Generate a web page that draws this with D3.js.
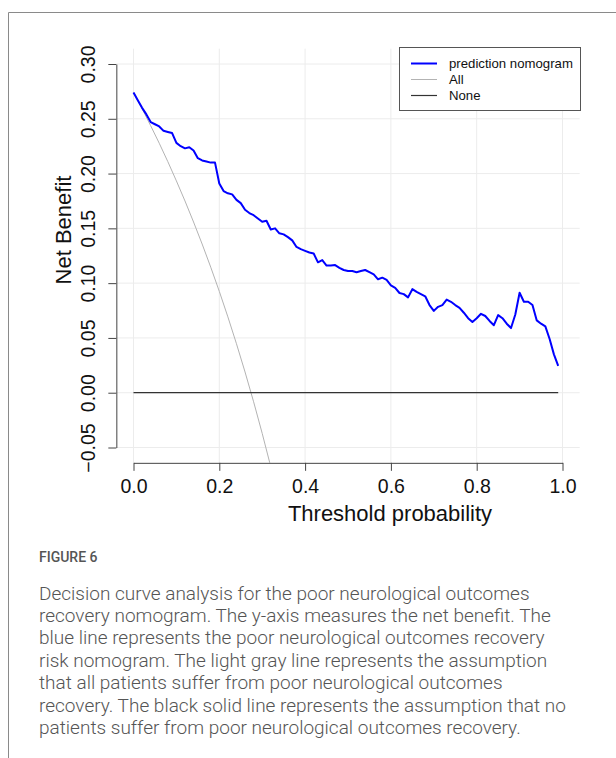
<!DOCTYPE html>
<html>
<head>
<meta charset="utf-8">
<script src="https://cdn.jsdelivr.net/npm/d3@7"></script>
<style>
  body { margin: 0; background: #fff; }
  svg { display: block; }
</style>
</head>
<body>
<script>
// canvas size
var w = 616;
var h = 758;

// threshold probabilities (every 0.01)
var thresholds = [
  0.00, 0.01, 0.02, 0.03, 0.04, 0.05, 0.06, 0.07, 0.08, 0.09,
  0.10, 0.11, 0.12, 0.13, 0.14, 0.15, 0.16, 0.17, 0.18, 0.19,
  0.20, 0.21, 0.22, 0.23, 0.24, 0.25, 0.26, 0.27, 0.28, 0.29,
  0.30, 0.31, 0.32, 0.33, 0.34, 0.35, 0.36, 0.37, 0.38, 0.39,
  0.40, 0.41, 0.42, 0.43, 0.44, 0.45, 0.46, 0.47, 0.48, 0.49,
  0.50, 0.51, 0.52, 0.53, 0.54, 0.55, 0.56, 0.57, 0.58, 0.59,
  0.60, 0.61, 0.62, 0.63, 0.64, 0.65, 0.66, 0.67, 0.68, 0.69,
  0.70, 0.71, 0.72, 0.73, 0.74, 0.75, 0.76, 0.77, 0.78, 0.79,
  0.80, 0.81, 0.82, 0.83, 0.84, 0.85, 0.86, 0.87, 0.88, 0.89,
  0.90, 0.91, 0.92, 0.93, 0.94, 0.95, 0.96, 0.97, 0.98, 0.99
];

// net benefit of the prediction nomogram
var nomogramNB = [
  0.274, 0.267, 0.260, 0.254, 0.247, 0.245, 0.243, 0.239, 0.238, 0.237,
  0.228, 0.225, 0.223, 0.224, 0.221, 0.214, 0.212, 0.211, 0.210, 0.210,
  0.191, 0.184, 0.182, 0.181, 0.176, 0.173, 0.167, 0.164, 0.162, 0.159,
  0.156, 0.157, 0.149, 0.150, 0.1455, 0.1445, 0.142, 0.139, 0.133, 0.131,
  0.1295, 0.128, 0.127, 0.119, 0.121, 0.116, 0.116, 0.1165, 0.114, 0.112,
  0.111, 0.111, 0.110, 0.111, 0.112, 0.110, 0.108, 0.1035, 0.105, 0.103,
  0.098, 0.0957, 0.091, 0.090, 0.087, 0.0945, 0.092, 0.090, 0.088, 0.080,
  0.0747, 0.0784, 0.080, 0.085, 0.083, 0.080, 0.0775, 0.073, 0.068, 0.0645,
  0.068, 0.072, 0.070, 0.0655, 0.0616, 0.0708, 0.068, 0.063, 0.059, 0.0714,
  0.0912, 0.083, 0.083, 0.080, 0.066, 0.063, 0.0605, 0.049, 0.035, 0.0245
];

// "All" (treat everyone) curve, read at a coarser step
var allThresholds = [0.00, 0.02, 0.04, 0.06, 0.08, 0.10, 0.12, 0.14, 0.16, 0.18,
  0.20, 0.22, 0.24, 0.26, 0.28, 0.30, 0.32];
var allNB = [0.274, 0.2592, 0.2437, 0.2277, 0.2109, 0.1933, 0.1750, 0.1558, 0.1357, 0.1146,
  0.0925, 0.0692, 0.0447, 0.0189, -0.0083, -0.0371, -0.0676];

// "None" line
var noneThresholds = [0.00, 0.99];
var noneNB = [0, 0];

// ticks
var xTicks = [0.0, 0.2, 0.4, 0.6, 0.8, 1.0];
var yTicks = [-0.05, 0.00, 0.05, 0.10, 0.15, 0.20, 0.25, 0.30];

// legend
var legendLabels = ["prediction nomogram", "All", "None"];
var legendColors = ["#0000ff", "#b3b3b3", "#333333"];
var legendWidths = [2, 1, 1.2];

// caption
var figureLabel = "FIGURE 6";
var captionLines = [
  "Decision curve analysis for the poor neurological outcomes",
  "recovery nomogram. The y-axis measures the net benefit. The",
  "blue line represents the poor neurological outcomes recovery",
  "risk nomogram. The light gray line represents the assumption",
  "that all patients suffer from poor neurological outcomes",
  "recovery. The black solid line represents the assumption that no",
  "patients suffer from poor neurological outcomes recovery."
];

var chartFont = "'Liberation Sans', Arial, Helvetica, sans-serif";
var captionFont = "Roboto, 'Open Sans', sans-serif";

var svg = d3.select("body").append("svg").attr("width", w).attr("height", h);

// outer frame (top and left only)
svg.append("path")
  .attr("d", "M8.5," + h + "V12.5H" + w)
  .attr("fill", "none")
  .attr("stroke", "#8a8a8a")
  .attr("stroke-width", 1);

// scales
var xScale = d3.scaleLinear().domain([0, 1]).range([133.5, 562.5]);
var yScale = d3.scaleLinear().domain([-0.05, 0.30]).range([447.5, 64]);

// plot region (R style 4% extension)
var px0 = xScale(-0.04), px1 = xScale(1.04);
var py0 = yScale(0.314), py1 = yScale(-0.064);

svg.append("clipPath").attr("id", "plotclip")
  .append("rect")
  .attr("x", px0).attr("y", py0)
  .attr("width", px1 - px0).attr("height", py1 - py0);

// grid
var grid = svg.append("g").attr("stroke", "#ececec").attr("stroke-width", 1);
grid.selectAll(".vg").data(xTicks).enter().append("line")
  .attr("x1", function (d) { return xScale(d); })
  .attr("x2", function (d) { return xScale(d); })
  .attr("y1", py0).attr("y2", py1);
grid.selectAll(".hg").data(yTicks).enter().append("line")
  .attr("x1", px0).attr("x2", px1)
  .attr("y1", function (d) { return yScale(d); })
  .attr("y2", function (d) { return yScale(d); });

var line = d3.line()
  .x(function (d) { return xScale(d[0]); })
  .y(function (d) { return yScale(d[1]); });

var plot = svg.append("g").attr("clip-path", "url(#plotclip)");

// All
plot.append("path")
  .attr("d", line(d3.zip(allThresholds, allNB)))
  .attr("fill", "none")
  .attr("stroke", legendColors[1])
  .attr("stroke-width", legendWidths[1]);

// None
plot.append("path")
  .attr("d", line(d3.zip(noneThresholds, noneNB)))
  .attr("fill", "none")
  .attr("stroke", legendColors[2])
  .attr("stroke-width", legendWidths[2]);

// prediction nomogram
plot.append("path")
  .attr("d", line(d3.zip(thresholds, nomogramNB)))
  .attr("fill", "none")
  .attr("stroke", legendColors[0])
  .attr("stroke-width", legendWidths[0])
  .attr("stroke-linejoin", "round");

// x axis
var xAxis = d3.axisBottom(xScale)
  .tickValues(xTicks)
  .tickSize(8)
  .tickSizeOuter(0)
  .tickFormat(d3.format(".1f"));

var gx = svg.append("g")
  .attr("transform", "translate(0," + py1 + ")")
  .call(xAxis);
gx.selectAll("path, line").attr("stroke", "#444");
gx.selectAll("text")
  .attr("y", 30).attr("dy", 0)
  .attr("fill", "#111")
  .style("font-family", chartFont)
  .style("font-size", "19.5px");

// y axis
var yAxis = d3.axisLeft(yScale)
  .tickValues(yTicks)
  .tickSize(8)
  .tickSizeOuter(0)
  .tickFormat(function (d) { return d3.format(".2f")(d).replace("-", "\u2212"); });

var gy = svg.append("g")
  .attr("transform", "translate(" + px0 + ",0)")
  .call(yAxis);
gy.selectAll("path, line").attr("stroke", "#444");
gy.selectAll("text")
  .attr("transform", "rotate(-90)")
  .attr("x", 0).attr("y", -21).attr("dy", 0)
  .attr("text-anchor", "middle")
  .attr("fill", "#111")
  .style("font-family", chartFont)
  .style("font-size", "19.5px");
svg.selectAll(".domain").attr("fill", "none");

// axis titles
svg.append("text")
  .attr("x", 390).attr("y", 521)
  .attr("text-anchor", "middle")
  .attr("fill", "#111")
  .style("font-family", chartFont)
  .style("font-size", "22px")
  .text("Threshold probability");

svg.append("text")
  .attr("transform", "translate(71,230) rotate(-90)")
  .attr("text-anchor", "middle")
  .attr("fill", "#111")
  .style("font-family", chartFont)
  .style("font-size", "22px")
  .text("Net Benefit");

// legend
var legend = svg.append("g");
legend.append("rect")
  .attr("x", 399.5).attr("y", 47.5)
  .attr("width", 181).attr("height", 63)
  .attr("fill", "#fff")
  .attr("stroke", "#555");

var rows = legend.selectAll(".row").data(legendLabels).enter().append("g")
  .attr("transform", function (d, i) { return "translate(0," + (63.5 + i * 16) + ")"; });
rows.append("line")
  .attr("x1", 411).attr("x2", 437)
  .attr("stroke", function (d, i) { return legendColors[i]; })
  .attr("stroke-width", function (d, i) { return legendWidths[i]; });
rows.append("text")
  .attr("x", 449).attr("y", 4.7)
  .attr("fill", "#111")
  .style("font-family", chartFont)
  .style("font-size", "13.2px")
  .text(function (d) { return d; });

// caption
svg.append("text")
  .attr("x", 39).attr("y", 562)
  .attr("fill", "#555")
  .style("font-family", captionFont)
  .style("font-size", "14px")
  .style("font-weight", 500)
  .text(figureLabel);

svg.selectAll(".cap").data(captionLines).enter().append("text")
  .attr("x", 39)
  .attr("y", function (d, i) { return 599.5 + i * 22.45; })
  .attr("fill", "#555")
  .style("font-family", captionFont)
  .style("font-size", "19px")
  .style("font-weight", 300)
  .text(function (d) { return d; });
</script>
</body>
</html>
